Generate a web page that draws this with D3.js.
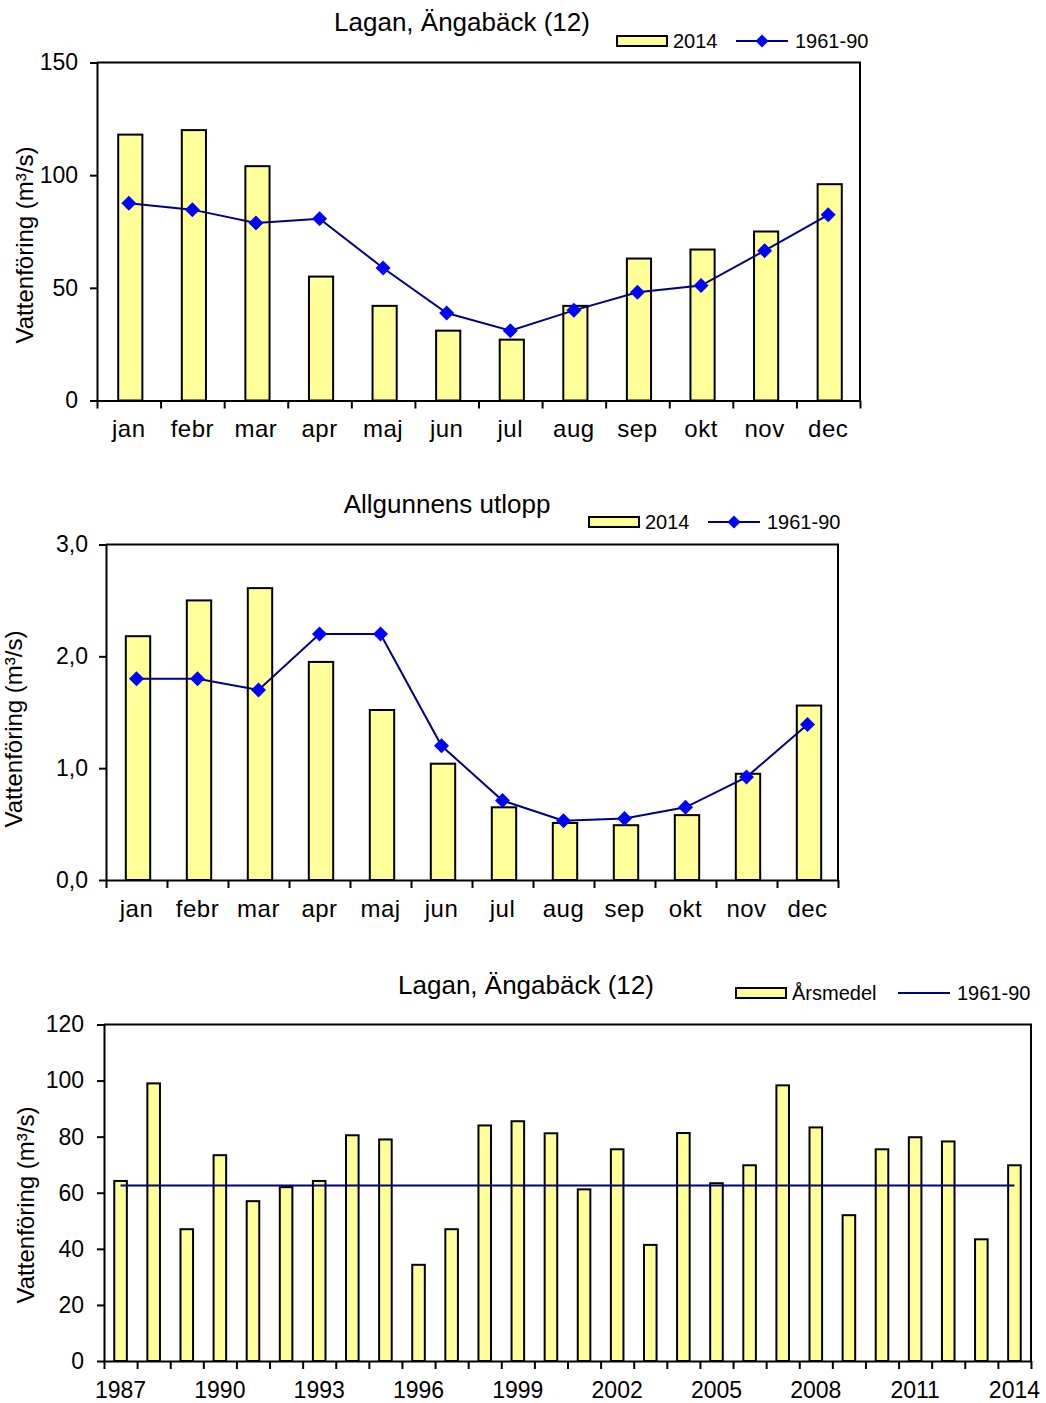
<!DOCTYPE html>
<html>
<head>
<meta charset="utf-8">
<script src="https://cdn.jsdelivr.net/npm/d3@7"></script>
<style>
  html, body { margin: 0; padding: 0; background: #fff; }
  svg { display: block; }
  text { font-family: Arial, "Liberation Sans", sans-serif; fill: #000; }
</style>
</head>
<body>
<svg id="chart" width="1046" height="1403"></svg>
<script>
// ---------- DATA ----------
const months = ["jan","febr","mar","apr","maj","jun","jul","aug","sep","okt","nov","dec"];

const lagan2014 = [118, 120, 104, 55, 42, 31, 27, 42, 63, 67, 75, 96];
const lagan6190 = [87.5, 84.7, 78.8, 80.7, 58.8, 38.8, 31, 40, 48, 51, 66.5, 82.4];
const laganTicks = [0, 50, 100, 150];

const allg2014 = [2.18, 2.5, 2.61, 1.95, 1.52, 1.04, 0.65, 0.51, 0.49, 0.58, 0.95, 1.56];
const allg6190 = [1.8, 1.8, 1.7, 2.2, 2.2, 1.2, 0.71, 0.53, 0.55, 0.65, 0.92, 1.39];
const allgTicks = [0, 1, 2, 3];

const years = ["1987","1988","1989","1990","1991","1992","1993","1994","1995","1996",
               "1997","1998","1999","2000","2001","2002","2003","2004","2005","2006",
               "2007","2008","2009","2010","2011","2012","2013","2014"];
const arsmedel = [64.2, 99, 47, 73.4, 57, 62, 64.2, 80.5, 79, 34.3,
                  47, 84, 85.5, 81.2, 61.2, 75.5, 41.4, 81.3, 63.4, 69.8,
                  98.3, 83.3, 52, 75.5, 79.8, 78.3, 43.4, 69.8];
const mean6190 = 62.6;
const yearLabels = ["1987","1990","1993","1996","1999","2002","2005","2008","2011","2014"];
const yearTicks = [0, 20, 40, 60, 80, 100, 120];

const yLabel = "Vattenföring (m³/s)";

// ---------- DRAW ----------
const svg = d3.select("#chart");
const BAR_FILL = "#FFFF99";
const LINE_COL = "#000080";
const MARK_COL = "#0000FF";

function diamond(g, x, y, r) {
  g.append("path")
    .attr("d", `M${x},${y - r}L${x + r},${y}L${x},${y + r}L${x - r},${y}Z`)
    .attr("fill", MARK_COL);
}

function drawChart(o) {
  const g = svg.append("g");
  const x = d3.scaleBand().domain(o.cats).range([o.left, o.right]).paddingInner(0).paddingOuter(0);
  const y = d3.scaleLinear().domain(o.yDomain).range([o.bottom, o.top]);
  const xi = d3.scaleLinear().domain([0, o.cats.length]).range([o.left, o.right]);

  // frame (top and right)
  g.append("path")
    .attr("d", `M${o.left},${o.top}H${o.right}V${o.bottom}`)
    .attr("fill", "none").attr("stroke", "#000").attr("stroke-width", 2);

  // bars
  const bw = x.bandwidth() * o.barRatio;
  const off = o.barOffset || 0;
  g.selectAll("rect.bar").data(o.bars).join("rect")
    .attr("class", "bar")
    .attr("x", (d, i) => x(o.cats[i]) + x.bandwidth() / 2 - bw / 2 + off)
    .attr("y", d => y(d))
    .attr("width", bw)
    .attr("height", d => y(0) - y(d))
    .attr("fill", BAR_FILL).attr("stroke", "#000").attr("stroke-width", 2);

  // line
  if (o.line) {
    const line = d3.line().x((d, i) => x(o.cats[i]) + x.bandwidth() / 2).y(d => y(d));
    g.append("path").datum(o.line).attr("d", line)
      .attr("fill", "none").attr("stroke", LINE_COL).attr("stroke-width", 2);
    o.line.forEach((d, i) => diamond(g, x(o.cats[i]) + x.bandwidth() / 2, y(d), 7.5));
  }
  if (o.hline !== undefined) {
    const c0 = x(o.cats[0]) + x.bandwidth() / 2;
    const c1 = x(o.cats[o.cats.length - 1]) + x.bandwidth() / 2;
    g.append("line").attr("x1", c0).attr("x2", c1)
      .attr("y1", y(o.hline)).attr("y2", y(o.hline))
      .attr("stroke", LINE_COL).attr("stroke-width", 2);
  }

  // y axis
  const ya = g.append("g").attr("transform", `translate(${o.left},0)`)
    .call(d3.axisLeft(y).tickValues(o.yTicks).tickSize(7).tickSizeOuter(0)
      .tickPadding(o.yPad).tickFormat(o.yFmt));
  ya.selectAll("path.domain").attr("stroke-width", 2);
  ya.selectAll("line").attr("stroke-width", 2);
  ya.selectAll("text").attr("font-size", o.tickFont).attr("font-family", "Arial, 'Liberation Sans', sans-serif");

  // x axis ticks at band boundaries
  const xa = g.append("g").attr("transform", `translate(0,${o.bottom})`)
    .call(d3.axisBottom(xi).tickValues(d3.range(o.cats.length + 1)).tickSize(8).tickSizeOuter(0).tickFormat(""));
  xa.selectAll("path.domain").attr("stroke-width", 2);
  xa.selectAll("line").attr("stroke-width", 2);

  // x labels
  const labs = o.xLabels || o.cats;
  g.selectAll("text.xl").data(labs).join("text")
    .attr("class", "xl")
    .attr("x", d => x(d) + x.bandwidth() / 2)
    .attr("y", o.xLabelY)
    .attr("text-anchor", "middle")
    .attr("font-size", o.xFont || o.tickFont)
    .attr("letter-spacing", o.xSpacing || 0)
    .text(d => d);

  // y label
  g.append("text")
    .attr("transform", `translate(${o.yLabX},${o.yLabY}) rotate(-90)`)
    .attr("text-anchor", "middle")
    .attr("font-size", 24)
    .text(yLabel);

  // title
  g.append("text").attr("x", o.titleX).attr("y", o.titleY)
    .attr("text-anchor", "middle").attr("font-size", 26).text(o.title);

  // legend
  const L = o.legend;
  g.append("rect").attr("x", L.boxX).attr("y", L.y - 5).attr("width", 50).attr("height", 10)
    .attr("fill", BAR_FILL).attr("stroke", "#000").attr("stroke-width", 2);
  g.append("text").attr("x", L.boxX + 56).attr("y", L.y + 7).attr("font-size", 20).text(L.barName);
  g.append("line").attr("x1", L.lineX).attr("x2", L.lineX + 52).attr("y1", L.y).attr("y2", L.y)
    .attr("stroke", LINE_COL).attr("stroke-width", 2);
  if (L.marker) diamond(g, L.lineX + 26, L.y, 6.5);
  g.append("text").attr("x", L.lineX + 59).attr("y", L.y + 7).attr("font-size", 20).text(L.lineName);
}

drawChart({
  cats: months, bars: lagan2014, line: lagan6190,
  left: 97, right: 860, top: 62.5, bottom: 400.5,
  yDomain: [0, 150], yTicks: laganTicks, yFmt: d3.format("d"), yPad: 12,
  barRatio: 0.38, barOffset: 1.5, tickFont: 23, xFont: 24, xLabelY: 437, xSpacing: 0.5,
  yLabX: 33, yLabY: 245,
  title: "Lagan, Ängabäck (12)", titleX: 462, titleY: 31,
  legend: { boxX: 617, y: 41, barName: "2014", lineX: 736, lineName: "1961-90", marker: true }
});

drawChart({
  cats: months, bars: allg2014, line: allg6190,
  left: 106, right: 838, top: 544.5, bottom: 880,
  yDomain: [0, 3], yTicks: allgTicks, yFmt: d => d3.format(".1f")(d).replace(".", ","), yPad: 11,
  barRatio: 0.4, barOffset: 1.5, tickFont: 23, xFont: 24, xLabelY: 917, xSpacing: 0.5,
  yLabX: 22, yLabY: 729,
  title: "Allgunnens utlopp", titleX: 447, titleY: 513,
  legend: { boxX: 589, y: 522, barName: "2014", lineX: 708, lineName: "1961-90", marker: true }
});

drawChart({
  cats: years, bars: arsmedel, hline: mean6190, xLabels: yearLabels,
  left: 104, right: 1031, top: 1024.5, bottom: 1361,
  yDomain: [0, 120], yTicks: yearTicks, yFmt: d3.format("d"), yPad: 13,
  barRatio: 0.38, tickFont: 23, xLabelY: 1398,
  yLabX: 34, yLabY: 1205,
  title: "Lagan, Ängabäck (12)", titleX: 526, titleY: 994,
  legend: { boxX: 736, y: 993, barName: "Årsmedel", lineX: 898, lineName: "1961-90", marker: false }
});
</script>
</body>
</html>
